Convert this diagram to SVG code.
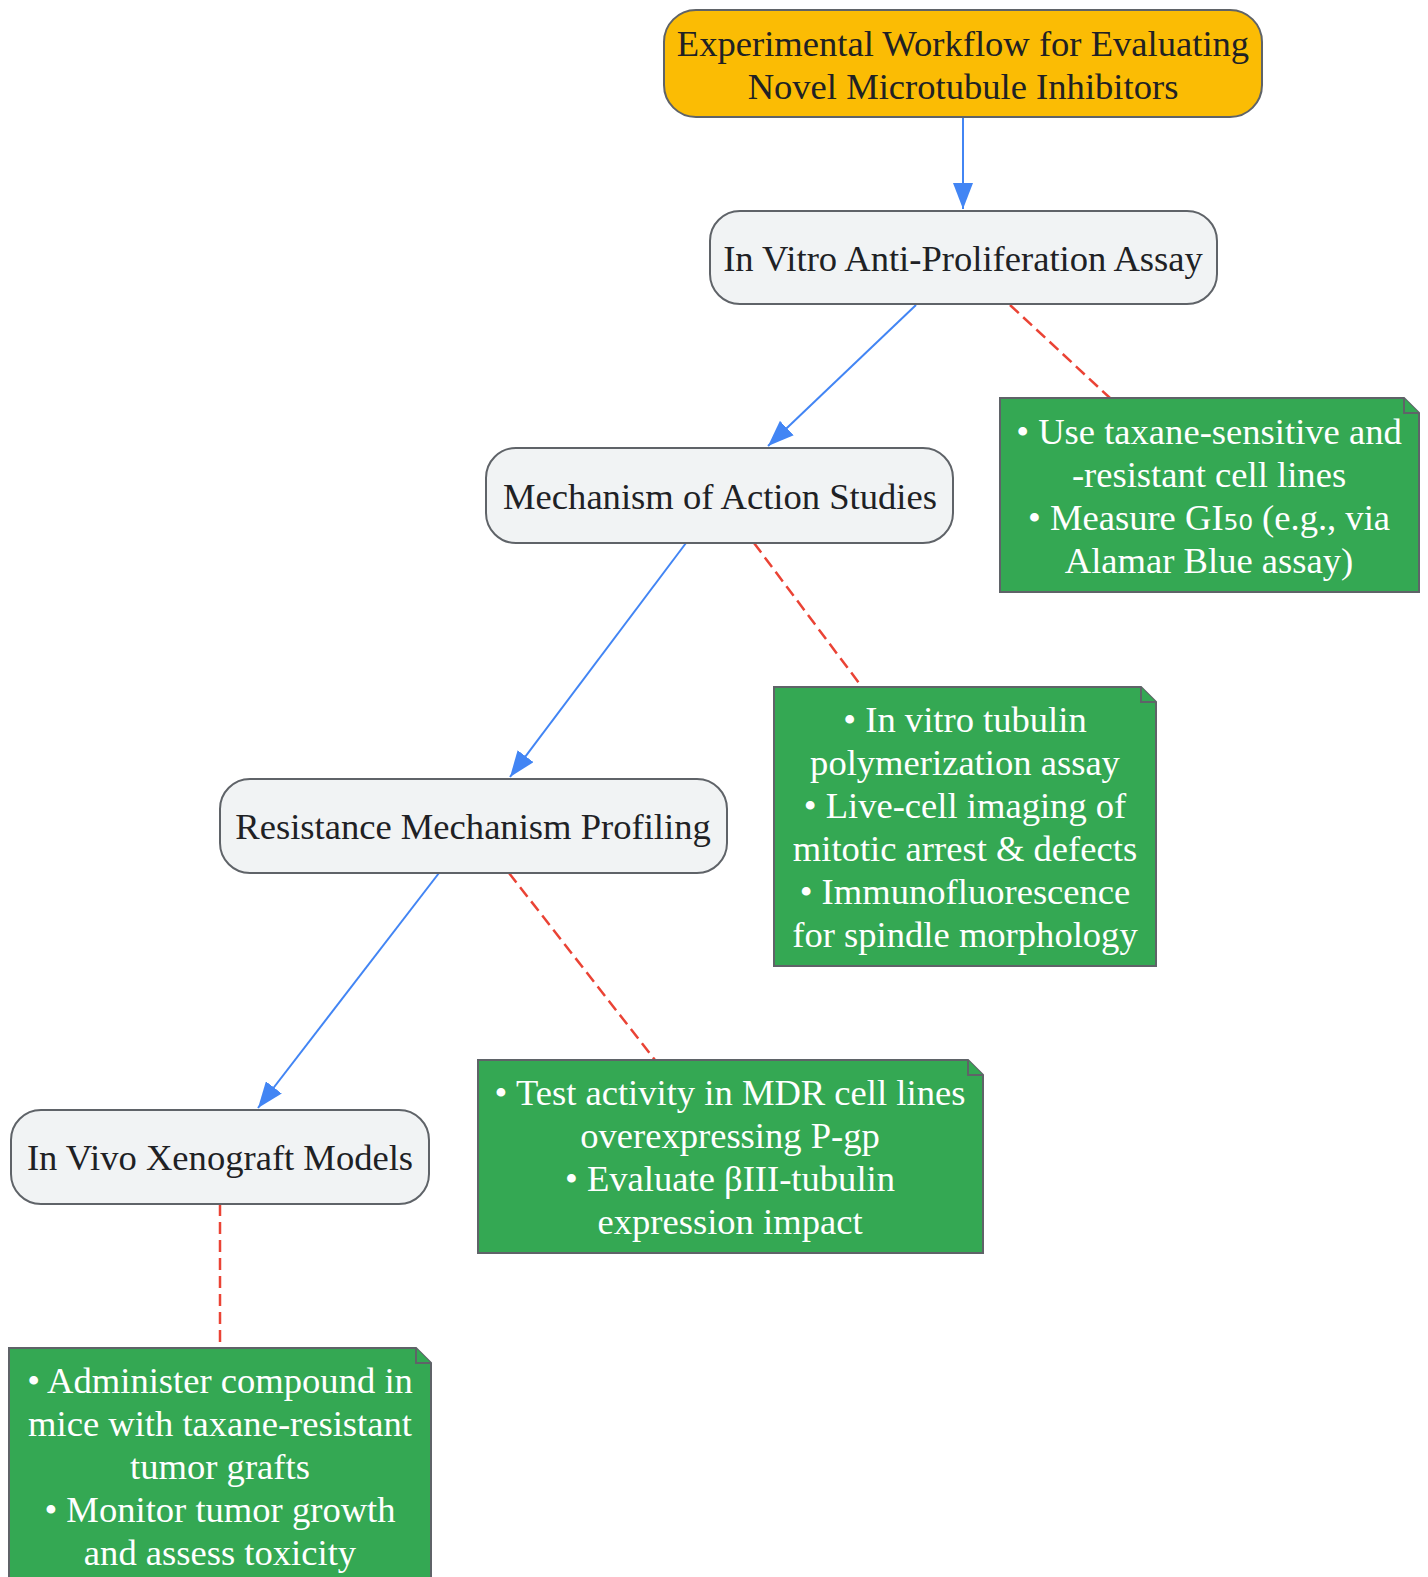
<svg xmlns="http://www.w3.org/2000/svg" width="1428" height="1577" viewBox="0 0 1428 1577">
<style>
.node rect{fill:#F1F3F4;stroke:#5F6368;stroke-width:2}
.title rect{fill:#FBBC04;stroke:#5F6368;stroke-width:2}
.note path{fill:#34A853;stroke:#5F6368;stroke-width:2}
text{font-family:"Liberation Serif","Times New Roman",serif;font-size:36.6px;text-anchor:middle}
.node text,.title text{fill:#202124}
.note text{fill:#FFFFFF}
.sub{font-family:"DejaVu Sans",sans-serif}
.flow{stroke:#4285F4;stroke-width:2;fill:none}
.dash{stroke:#EA4335;stroke-width:2.5;fill:none;stroke-dasharray:12,6}
</style>
<defs>
<marker id="arr" viewBox="0 0 26 20" refX="26" refY="10" markerWidth="26" markerHeight="20" markerUnits="userSpaceOnUse" orient="auto">
<path d="M0,0 L26,10 L0,20 Z" fill="#4285F4"/>
</marker>
</defs>
<g id="connectors">
<path class="flow" d="M963,117 L963,209" marker-end="url(#arr)"/>
<path class="flow" d="M916,305 L768,446" marker-end="url(#arr)"/>
<path class="flow" d="M686,543 L510,777" marker-end="url(#arr)"/>
<path class="flow" d="M439,873 L258,1108" marker-end="url(#arr)"/>
<path class="dash" d="M1010,305 L1110,398"/>
<path class="dash" d="M754,543 L862,687"/>
<path class="dash" d="M509,873 L655,1060"/>
<path class="dash" d="M220,1204 L220,1348"/>
</g>
<g id="title" class="title">
<rect x="664" y="10" width="598" height="107" rx="32" ry="32"/>
<text x="963" y="56">Experimental Workflow for Evaluating</text>
<text x="963" y="99">Novel Microtubule Inhibitors</text>
</g>
<g id="invitro" class="node">
<rect x="710" y="211" width="507" height="93" rx="30" ry="30"/>
<text x="963" y="271">In Vitro Anti-Proliferation Assay</text>
</g>
<g id="moa" class="node">
<rect x="486" y="448" width="467" height="95" rx="30" ry="30"/>
<text x="720" y="509">Mechanism of Action Studies</text>
</g>
<g id="resistance" class="node">
<rect x="220" y="779" width="507" height="94" rx="30" ry="30"/>
<text x="473" y="839">Resistance Mechanism Profiling</text>
</g>
<g id="invivo" class="node">
<rect x="11" y="1110" width="418" height="94" rx="30" ry="30"/>
<text x="220" y="1170">In Vivo Xenograft Models</text>
</g>
<g id="note1" class="note">
<path d="M1000,398 H1404 L1419,413 V592 H1000 Z"/>
<path d="M1404,398 V413 H1419"/>
<text x="1209" y="444">• Use taxane-sensitive and</text>
<text x="1209" y="487">-resistant cell lines</text>
<text x="1209" y="530">• Measure GI<tspan class="sub">₅₀</tspan> (e.g., via</text>
<text x="1209" y="573">Alamar Blue assay)</text>
</g>
<g id="note2" class="note">
<path d="M774,687 H1141 L1156,702 V966 H774 Z"/>
<path d="M1141,687 V702 H1156"/>
<text x="965" y="732">• In vitro tubulin</text>
<text x="965" y="775">polymerization assay</text>
<text x="965" y="818">• Live-cell imaging of</text>
<text x="965" y="861">mitotic arrest &amp; defects</text>
<text x="965" y="904">• Immunofluorescence</text>
<text x="965" y="947">for spindle morphology</text>
</g>
<g id="note3" class="note">
<path d="M478,1060 H968 L983,1075 V1253 H478 Z"/>
<path d="M968,1060 V1075 H983"/>
<text x="730" y="1105">• Test activity in MDR cell lines</text>
<text x="730" y="1148">overexpressing P-gp</text>
<text x="730" y="1191">• Evaluate βIII-tubulin</text>
<text x="730" y="1234">expression impact</text>
</g>
<g id="note4" class="note">
<path d="M9,1348 H416 L431,1363 V1586 H9 Z"/>
<path d="M416,1348 V1363 H431"/>
<text x="220" y="1393">• Administer compound in</text>
<text x="220" y="1436">mice with taxane-resistant</text>
<text x="220" y="1479">tumor grafts</text>
<text x="220" y="1522">• Monitor tumor growth</text>
<text x="220" y="1565">and assess toxicity</text>
</g>
</svg>
